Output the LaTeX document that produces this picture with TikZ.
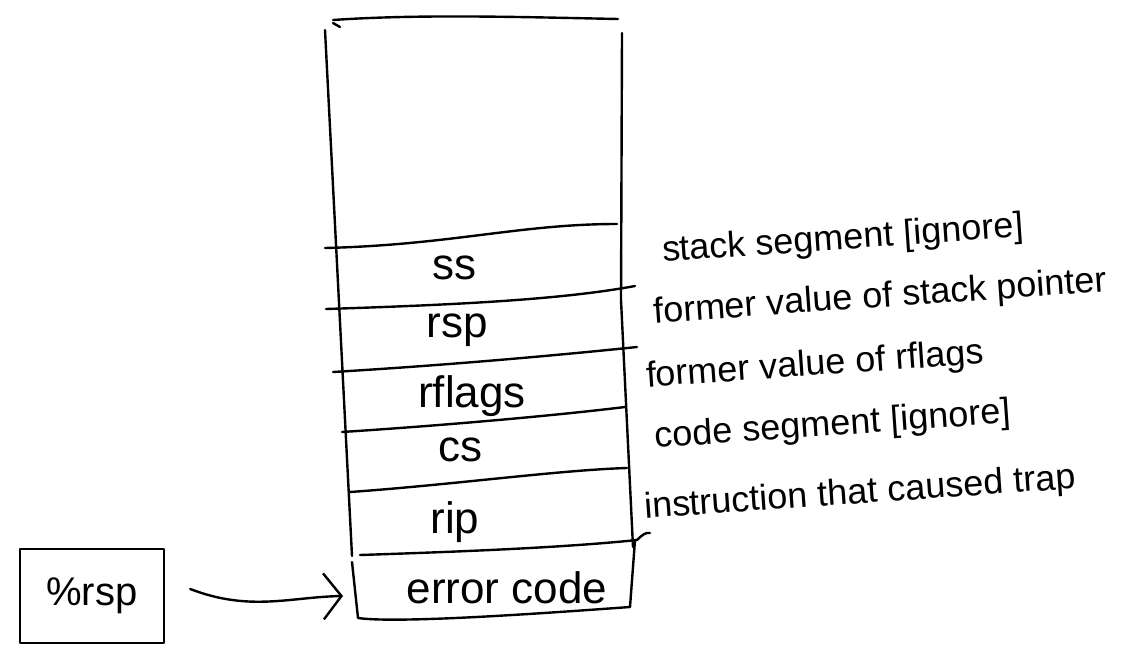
\documentclass[tikz,border=0pt]{standalone}
\usepackage{fontspec}
\setmainfont{Liberation Sans}
\usetikzlibrary{arrows.meta}
\begin{document}
\begin{tikzpicture}[x=1pt,y=-1pt,line width=2.4pt,line cap=round,line join=round,
  celltext/.style={font=\fontsize{44}{48}\selectfont,inner sep=0pt},
  labeltext/.style={font=\fontsize{36}{40}\selectfont,inner sep=0pt,rotate=4},
  pointer/.style={-{Straight Barb[length=18pt,width=46pt,line width=2.4pt]}}]
\useasboundingbox (0,0) rectangle (1134,658);
% stack outline
\draw (333,20) .. controls (420,14) and (520,17) .. (618,19);
\draw (333,23) -- (340,27);
\draw (325,30) -- (352,556);
\draw (622,33) -- (621,300) -- (633,547);
% separators
\draw (325,248) .. controls (450,245) and (520,224) .. (617,224);
\draw (326,309) .. controls (450,305) and (560,300) .. (635,286);
\draw (333,372) .. controls (450,365) and (560,355) .. (637,347);
\draw (342,432) .. controls (450,425) and (560,415) .. (625,407);
\draw (350,492) .. controls (450,485) and (560,470) .. (627,468);
\draw (360,555) .. controls (450,552) and (560,548) .. (637,540);
\draw (637,540) .. controls (642,535) and (646,532) .. (650,533);
% error code cell
\draw (352,562) -- (358,618) .. controls (400,624) and (560,612) .. (630,607) -- (635,540);
% cell texts
\node[celltext] (ss) at (454,268) {ss};
\node[celltext] (rsp) at (457,330) {rsp};
\node[celltext] (rflags) at (472,396) {rflags};
\node[celltext] (cs) at (460,450) {cs};
\node[celltext] (rip) at (455,522) {rip};
\node[celltext] (err) at (507,588) {error code};
% labels
\node[labeltext] (lss) at (843,240) {stack segment [ignore]};
\node[labeltext] (lrsp) at (880,298) {former value of stack pointer};
\node[labeltext] (lrfl) at (815,366) {former value of rflags};
\node[labeltext] (lcs) at (833,426) {code segment [ignore]};
\node[labeltext] (lrip) at (860,494) {instruction that caused trap};
% rsp register box
\node[draw,minimum width=144pt,minimum height=94pt,font=\fontsize{40}{44}\selectfont] (rspbox) at (92,596) {\%rsp};
\coordinate (errin) at (343,596);
\draw[pointer] ([xshift=25pt,yshift=7pt]rspbox.east) .. controls (250,612) and (290,597) .. (errin);
\end{tikzpicture}
\end{document}
